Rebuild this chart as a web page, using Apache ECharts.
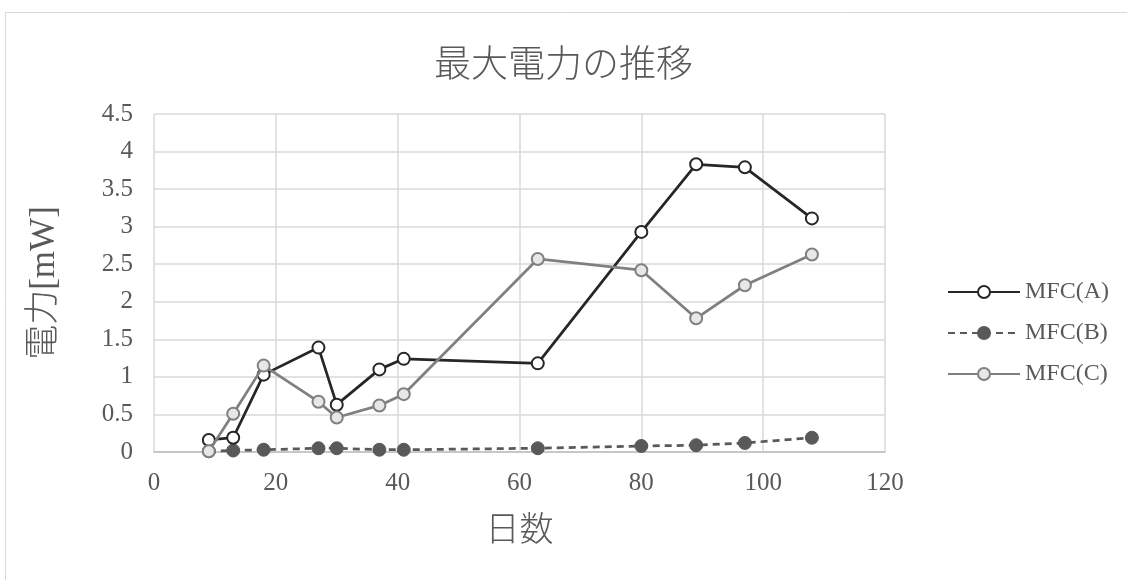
<!DOCTYPE html>
<html>
<head>
<meta charset="utf-8">
<script src="https://cdn.jsdelivr.net/npm/echarts@6/dist/echarts.min.js"></script>
<style>
  html, body { margin: 0; padding: 0; background: #fff; }
  #main { width: 1127px; height: 580px; }
</style>
</head>
<body>
<div id="main"></div>
<script>
// 日数 と 最大電力[mW]
var daysA = [9, 13, 18, 27, 30, 37, 41, 63, 80, 89, 97, 108];
var mfcA = [0.16, 0.19, 1.03, 1.39, 0.63, 1.10, 1.24, 1.18, 2.93, 3.83, 3.79, 3.11];
var daysB = [9, 13, 18, 27, 30, 37, 41, 63, 80, 89, 97, 108];
var mfcB = [0.01, 0.02, 0.03, 0.05, 0.05, 0.03, 0.03, 0.05, 0.08, 0.09, 0.12, 0.19];
var daysC = [9, 13, 18, 27, 30, 37, 41, 63, 80, 89, 97, 108];
var mfcC = [0.01, 0.51, 1.15, 0.67, 0.46, 0.62, 0.77, 2.57, 2.42, 1.78, 2.22, 2.63];
var seriesNames = ['MFC(A)', 'MFC(B)', 'MFC(C)'];

var pair = function (xs, ys) {
  var res = [];
  for (var i = 0; i < xs.length; i++) {
    res.push([xs[i], ys[i]]);
  }
  return res;
};

// 英数字はセリフ、漢字は Noto にフォールバック
var numFont = '"Liberation Serif", "DejaVu Serif", serif';
var mixFont = '"Liberation Serif", "Noto Sans CJK JP", serif';
var jpFont = '"Noto Sans CJK JP", sans-serif';

var myChart = echarts.init(document.getElementById('main'));
var option = {
  backgroundColor: '#fff',
  animation: false,
  title: {
    text: '最大電力の推移',
    left: 'center',
    top: 39,
    textStyle: {
      fontFamily: jpFont,
      fontSize: 37,
      fontWeight: 300,
      color: '#595959'
    }
  },
  graphic: [{
    type: 'rect',
    shape: { x: 5.5, y: 12.5, width: 1200, height: 700 },
    style: { fill: 'none', stroke: '#d9d9d9', lineWidth: 1 },
    silent: true
  }],
  legend: {
    orient: 'vertical',
    left: 942,
    top: 275,
    itemWidth: 72,
    itemHeight: 15,
    itemGap: 17,
    data: seriesNames,
    textStyle: {
      fontFamily: numFont,
      fontSize: 24,
      color: '#595959'
    }
  },
  grid: {
    left: 154,
    top: 114,
    right: 242,
    bottom: 128
  },
  xAxis: {
    type: 'value',
    min: 0,
    max: 120,
    interval: 20,
    name: '日数',
    nameLocation: 'middle',
    nameGap: 59,
    nameTextStyle: {
      fontFamily: jpFont,
      fontSize: 34,
      fontWeight: 300,
      color: '#595959'
    },
    axisLine: { show: true, lineStyle: { color: '#bfbfbf', width: 1.5 } },
    axisTick: { show: false },
    splitLine: { show: true, lineStyle: { color: '#d9d9d9', width: 1.5 } },
    axisLabel: {
      margin: 19,
      fontFamily: numFont,
      fontSize: 25,
      color: '#595959'
    }
  },
  yAxis: {
    type: 'value',
    min: 0,
    max: 4.5,
    interval: 0.5,
    name: '電力[mW]',
    nameLocation: 'middle',
    nameGap: 92,
    nameTextStyle: {
      fontFamily: mixFont,
      fontSize: 35,
      fontWeight: 300,
      color: '#595959'
    },
    axisLine: { show: false },
    axisTick: { show: false },
    splitLine: { show: true, lineStyle: { color: '#d9d9d9', width: 1.5 } },
    axisLabel: {
      margin: 21,
      fontFamily: numFont,
      fontSize: 25,
      color: '#595959'
    }
  },
  series: [{
    name: seriesNames[0],
    type: 'line',
    data: pair(daysA, mfcA),
    symbol: 'circle',
    symbolSize: 12,
    z: 3,
    lineStyle: { color: '#262626', width: 2.75 },
    itemStyle: { color: '#ffffff', borderColor: '#262626', borderWidth: 2 }
  }, {
    name: seriesNames[1],
    type: 'line',
    data: pair(daysB, mfcB),
    symbol: 'circle',
    symbolSize: 13,
    z: 2,
    lineStyle: { color: '#595959', width: 2.75, type: [7, 5] },
    itemStyle: { color: '#595959', borderColor: '#595959', borderWidth: 1 }
  }, {
    name: seriesNames[2],
    type: 'line',
    data: pair(daysC, mfcC),
    symbol: 'circle',
    symbolSize: 12,
    z: 4,
    lineStyle: { color: '#808080', width: 2.75 },
    itemStyle: { color: '#e7e7e7', borderColor: '#808080', borderWidth: 2 }
  }]
};
myChart.setOption(option);
</script>
</body>
</html>
